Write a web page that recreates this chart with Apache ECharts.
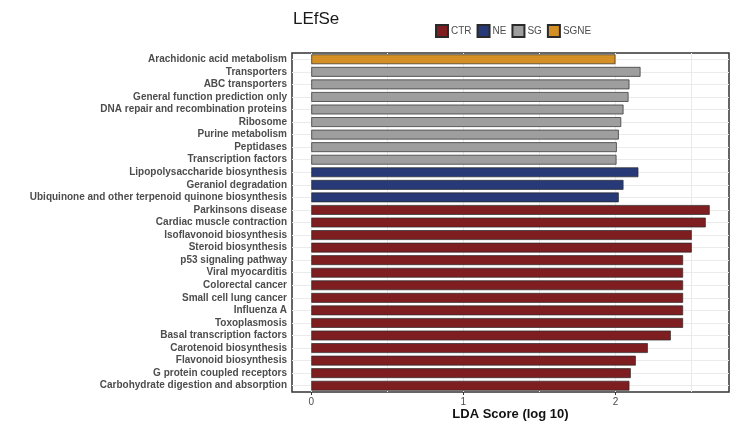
<!DOCTYPE html>
<html>
<head>
<meta charset="utf-8">
<script src="https://cdn.jsdelivr.net/npm/echarts@6/dist/echarts.min.js"></script>
<style>html,body{margin:0;padding:0;background:#fff}#chart{width:731px;height:422px}</style>
</head>
<body>
<div id="chart"></div>
<script>
const categories = [
  'Arachidonic acid metabolism','Transporters','ABC transporters','General function prediction only',
  'DNA repair and recombination proteins','Ribosome','Purine metabolism','Peptidases','Transcription factors',
  'Lipopolysaccharide biosynthesis','Geraniol degradation','Ubiquinone and other terpenoid quinone biosynthesis',
  'Parkinsons disease','Cardiac muscle contraction','Isoflavonoid biosynthesis','Steroid biosynthesis',
  'p53 signaling pathway','Viral myocarditis','Colorectal cancer','Small cell lung cancer','Influenza A',
  'Toxoplasmosis','Basal transcription factors','Carotenoid biosynthesis','Flavonoid biosynthesis',
  'G protein coupled receptors','Carbohydrate digestion and absorption'
];
const ldaScores = [
  2.00, 2.165, 2.092, 2.086, 2.053, 2.038, 2.022, 2.009, 2.007,
  2.151, 2.053, 2.022,
  2.620, 2.594, 2.502, 2.502, 2.445, 2.445, 2.445, 2.445, 2.445, 2.445, 2.364, 2.213, 2.134, 2.101, 2.092
];
const classOf = [
  'SGNE','SG','SG','SG','SG','SG','SG','SG','SG',
  'NE','NE','NE',
  'CTR','CTR','CTR','CTR','CTR','CTR','CTR','CTR','CTR','CTR','CTR','CTR','CTR','CTR','CTR'
];
const groups = ['CTR','NE','SG','SGNE'];
const groupColors = ['#7E1E20','#273A77','#9E9E9E','#D48F25'];
const xGridValues = [0, 0.5, 1, 1.5, 2, 2.5];
const xTickLabels = [0, 1, 2];

const chart = echarts.init(document.getElementById('chart'), null, {renderer:'canvas'});

const barSeries = groups.map((g, gi) => ({
  name: g,
  type: 'bar',
  stack: 'all',
  z: 3,
  barCategoryGap: '22%',
  itemStyle: {color: groupColors[gi], borderColor: '#2a2a2a', borderWidth: 0.7},
  emphasis: {disabled: true},
  data: ldaScores.map((v, i) => classOf[i] === g ? v : '-')
}));

const gridSeries = {
  type: 'line',
  data: [],
  z: 1,
  silent: true,
  markLine: {
    z: 1,
    silent: true,
    symbol: ['none','none'],
    label: {show: false},
    animation: false,
    lineStyle: {color: '#EBEBEB', width: 1, type: 'solid'},
    emphasis: {disabled: true},
    data: xGridValues.map(v => ({xAxis: v})).concat(categories.map(c => ({yAxis: c})))
  }
};

chart.setOption({
  animation: false,
  backgroundColor: '#fff',
  title: {
    text: 'LEfSe', left: 288, top: 6,
    textStyle: {fontFamily: 'Liberation Sans', fontSize: 17, fontWeight: 'normal', color: '#1A1A1A'}
  },
  legend: {
    data: groups, left: 435, top: 24, padding: 0,
    itemWidth: 12, itemHeight: 12, itemGap: 5, icon: 'rect',
    textStyle: {fontFamily: 'Liberation Sans', fontSize: 10, color: '#4D4D4D', padding: [0,0,0,-2]}
  },
  grid: {
    left: 292, right: 2, top: 53, bottom: 30,
    outerBoundsMode: 'none', containLabel: false,
    show: true, borderColor: '#333', borderWidth: 1.5, backgroundColor: '#fff'
  },
  xAxis: {
    type: 'value', min: -0.127, max: 2.747,
    axisLine: {show: false},
    splitLine: {show: false},
    axisTick: {show: true, length: 3, lineStyle: {color: '#333'}, customValues: xTickLabels},
    axisLabel: {
      customValues: xTickLabels, margin: 5,
      fontFamily: 'Liberation Sans', fontSize: 10, color: '#4D4D4D',
      formatter: v => (Math.abs(v - Math.round(v)) < 1e-9 ? String(Math.round(v)) : '')
    },
    name: 'LDA Score (log 10)', nameLocation: 'middle', nameGap: 16, nameMoveOverlap: false,
    nameTextStyle: {fontFamily: 'Liberation Sans', fontSize: 13, fontWeight: 'bold', color: '#111', verticalAlign: 'top'}
  },
  yAxis: {
    type: 'category', data: categories, inverse: true,
    axisLine: {show: false},
    axisTick: {show: true, alignWithLabel: true, length: 3, lineStyle: {color: '#333'}},
    splitLine: {show: false},
    axisLabel: {
      interval: 0, margin: 5,
      fontFamily: 'Liberation Sans', fontSize: 10, fontWeight: 'bold', color: '#4D4D4D'
    }
  },
  series: [gridSeries].concat(barSeries)
});
</script>
</body>
</html>
